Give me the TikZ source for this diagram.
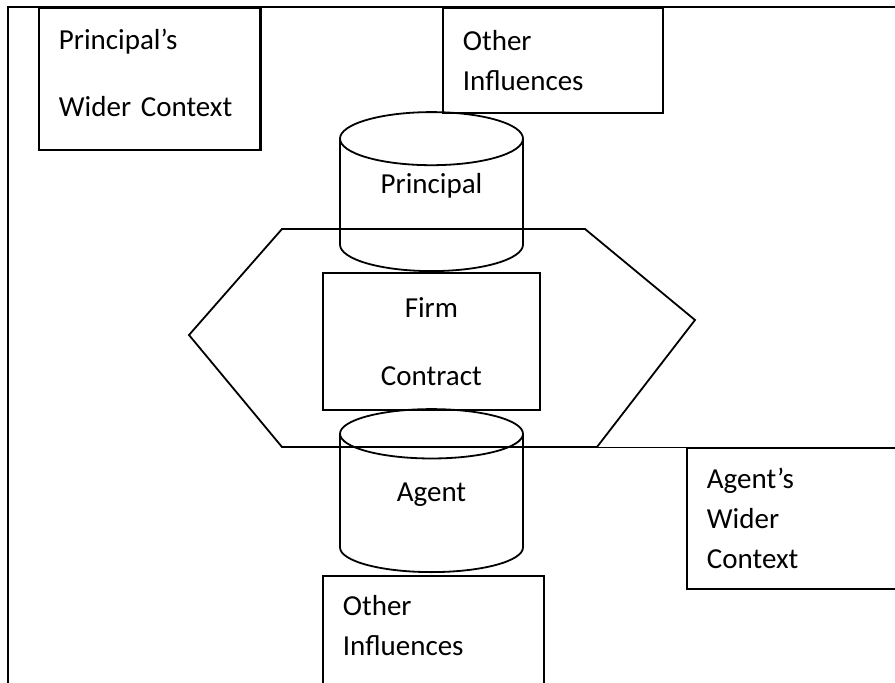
\documentclass[tikz,border=0pt]{standalone}
\usepackage{fontspec}
\setmainfont{Carlito}
\usepackage{tikz}
\usetikzlibrary{shapes.geometric}

\begin{document}
\begin{tikzpicture}[x=1pt, y=-1pt,
  every node/.style={font=\fontsize{29}{40}\selectfont},
  box/.style={rectangle, draw, line width=1.8pt, anchor=north west,
              inner xsep=20pt, inner ysep=0pt, align=left},
  drum/.style={cylinder, shape border rotate=90, draw, line width=1.8pt,
               anchor=south, minimum width=183pt},
  edge/.style={line width=1.8pt}
]
\useasboundingbox (0,0) rectangle (895,683);
% frame
\draw[edge] (8,683) -- (8,7) -- (900,7);
% context boxes
\node[box, text width=181pt, minimum height=142pt, text depth=79pt] (pwc) at (38,7)
      {Principal’s\\[27pt]Wider Context};
\draw[line width=3pt] (pwc.north east) -- (pwc.south east);
\node[box, text width=180pt, minimum height=105pt] (oi1) at (442,7)
      {Other\\Influences};
% firm hexagon
\coordinate (h1) at (282,229);
\coordinate (h2) at (585,229);
\coordinate (h3) at (695,320);
\coordinate (h4) at (597,447);
\coordinate (h5) at (282,447);
\coordinate (h6) at (189,335);
\draw[edge] (h1) -- (h2) -- (h3) -- (h4) -- (h5) -- (h6) -- cycle;
\node[box, text width=177pt, minimum height=137pt, align=center] (firm) at (322,272)
      {Firm\\[28pt]Contract};
% principal / agent
\node[drum, aspect=0.49, minimum height=159pt, text depth=50pt] (principal) at (431.5,272)
      {Principal};
\node[drum, aspect=0.65, minimum height=163pt, text depth=30pt] (agent) at (431.5,573)
      {Agent};
% agent side
\node[box, text width=230pt, minimum height=141pt] (awc) at (686,447)
      {Agent’s\\Wider\\Context};
\draw[line width=0.8pt] (h4) -- (awc.north west);
\node[box, text width=181pt, minimum height=115pt, text depth=56pt] (oi2) at (322,575)
      {Other\\Influences};
\end{tikzpicture}
\end{document}
